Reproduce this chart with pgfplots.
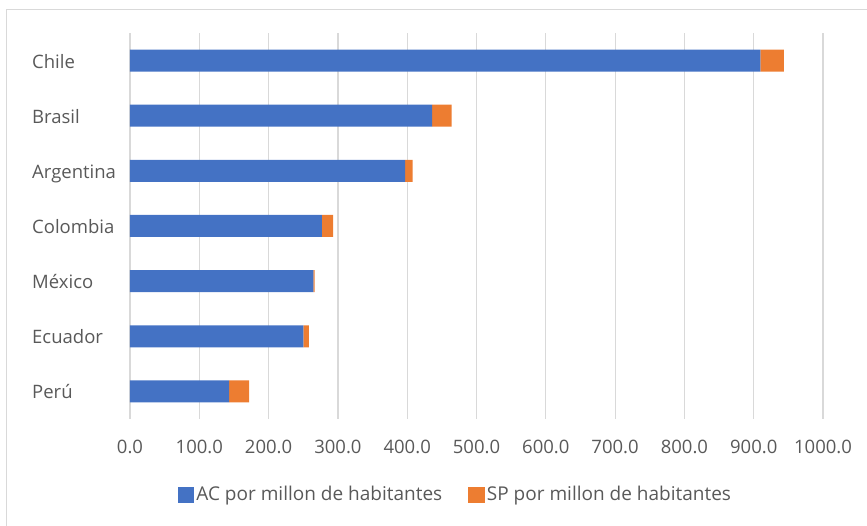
\documentclass[border=0pt]{standalone}
\usepackage{fontspec}
\setmainfont{Open Sans}
\usepackage{pgfplots}
\pgfplotsset{compat=1.18}
\definecolor{acblue}{HTML}{4472C4}
\definecolor{sporange}{HTML}{ED7D31}
\definecolor{txtgray}{HTML}{595959}
\definecolor{gridgray}{HTML}{D9D9D9}
\begin{document}
\fontsize{18.5}{22}\selectfont
\begin{tikzpicture}
\useasboundingbox (-130pt,-107pt) rectangle (737pt,419pt);
\draw[gridgray, line width=1pt] (-123pt,-107pt) -- (-123pt,409pt) -- (737pt,409pt);
\begin{axis}[
  at={(0pt,0pt)}, anchor=south west,
  scale only axis, width=693pt, height=386pt,
  xbar stacked, bar width=22pt,
  xmin=0, xmax=1000, ymin=-0.5, ymax=6.5,
  xtick={0,100,...,1000},
  ytick={0,...,6},
  yticklabels={Perú,Ecuador,México,Colombia,Argentina,Brasil,Chile},
  xmajorgrids, grid style={gridgray, line width=1.2pt},
  axis line style={draw=none},
  major tick length=0pt,
  every tick label/.append style={color=txtgray},
  xticklabel style={anchor=center, yshift=-28pt,
    /pgf/number format/.cd, fixed, fixed zerofill, precision=1, set thousands separator={}, assume math mode=true},
  yticklabel style={anchor=west, xshift=-98pt, inner xsep=0pt, inner ysep=0pt, text height=15pt, text depth=0pt},
  legend style={at={(0.4695,-0.197)}, anchor=center, draw=none, fill=none,
    legend columns=2, text=txtgray, font=\fontsize{19}{22}\selectfont,
    /tikz/every even column/.append style={column sep=24pt},
    nodes={inner xsep=2pt}},
  legend cell align=left,
]
\addplot[fill=acblue, draw=none, legend image code/.code={\fill[acblue] (0pt,-8.3pt) rectangle (16.7pt,8.3pt);}]
  coordinates {(143,0) (250,1) (264.5,2) (277,3) (397,4) (436,5) (909.5,6)};
\addlegendentry{AC por millon de habitantes}
\addplot[fill=sporange, draw=none, legend image code/.code={\fill[sporange] (0pt,-8.3pt) rectangle (16.7pt,8.3pt);}]
  coordinates {(29,0) (8,1) (2,2) (16,3) (11,4) (28,5) (34,6)};
\addlegendentry{SP por millon de habitantes}
\end{axis}
\end{tikzpicture}
\end{document}
